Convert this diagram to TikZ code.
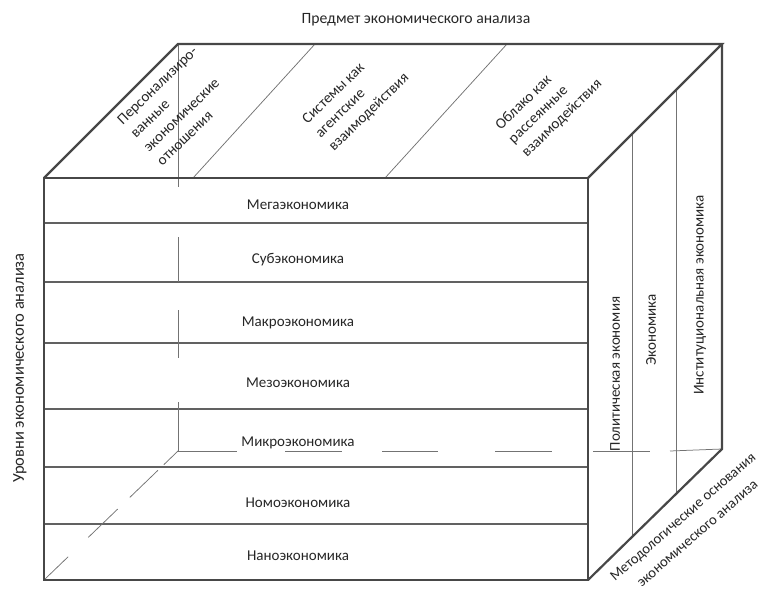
\documentclass[tikz,border=0pt]{standalone}
\usepackage{fontspec}
\setmainfont{Carlito}
\usetikzlibrary{calc}
\begin{document}
\begin{tikzpicture}[x=1pt,y=-1pt,
  edge/.style={draw=black!72, line width=2.2pt, line join=miter},
  layer/.style={draw=black!62, line width=1.1pt},
  thinline/.style={draw=black!55, line width=0.75pt},
  lbl/.style={text=black!85, font=\fontsize{15}{18}\selectfont, inner sep=0pt},
  toplbl/.style={lbl, rotate=44, align=left, font=\fontsize{15}{19}\selectfont},
  sidelbl/.style={lbl, rotate=90}]
\useasboundingbox (0,0) rectangle (761,594);
% corners
\coordinate (A) at (44,178);
\coordinate (B) at (588,178);
\coordinate (C) at (588,580);
\coordinate (D) at (44,580);
\coordinate (E) at (178,44);
\coordinate (F) at (722,44);
\coordinate (G) at (722,449);
\coordinate (H) at (178,451);
% layer lines
\foreach \yy in {223,282,343,409,467,524}
  \draw[layer] (44,\yy) -- (588,\yy);
% hidden back vertical edge (broken)
\draw[thinline] (E) -- (178,187);
\draw[thinline] (178,237) -- (178,282);
\draw[thinline] (178,310) -- (178,358);
\draw[thinline] (178,402) -- (H);
% hidden back bottom edge (dashed)
\draw[thinline] (H) -- (237,451);
\draw[thinline] (285,451) -- (342,451);
\draw[thinline] (382,451) -- (438,451);
\draw[thinline] (495,451) -- (552,451);
\draw[thinline] (593,451) -- (650,451);
\draw[thinline] (670,451) -- (G);
% hidden diagonal (dashed)
\draw[thinline] (H) -- ($(H)!0.106!(D)$);
\draw[thinline] ($(H)!0.15!(D)$) -- ($(H)!0.36!(D)$);
\draw[thinline] ($(H)!0.45!(D)$) -- ($(H)!0.67!(D)$);
\draw[thinline] ($(H)!0.82!(D)$) -- (D);
% top face dividers
\draw[thinline] (193,178) -- (315,44);
\draw[thinline] (385,178) -- (507,44);
% right face dividers
\draw[thinline] (632,134) -- (632,536);
\draw[thinline] (676,90) -- (676,492);
% outer edges
\draw[edge] (A) -- (B) -- (C) -- (D) -- cycle;
\draw[edge] (A) -- (E) -- (F) -- (B);
\draw[edge] (F) -- (G) -- (C);
% labels
\node[lbl, font=\fontsize{15.7}{18}\selectfont] (title) at (416,20) {Предмет экономического анализа};
\node[lbl] (mega) at (298,205) {Мегаэкономика};
\node[lbl] (sub) at (298,260) {Субэкономика};
\node[lbl] (makro) at (298,323) {Макроэкономика};
\node[lbl] (mezo) at (298,383) {Мезоэкономика};
\node[lbl] (mikro) at (298,443) {Микроэкономика};
\node[lbl] (nomo) at (298,503) {Номоэкономика};
\node[lbl] (nano) at (298,556) {Наноэкономика};
\node[toplbl] (pers) at (177,106) {Персонализиро-\\ванные\\экономические\\отношения};
\node[toplbl] (sys) at (356,99) {Системы как\\агентские\\взаимодействия};
\node[toplbl] (cloud) at (549,105) {Облако как\\рассеянные\\взаимодействия};
\node[sidelbl] (polit) at (615,374) {Политическая экономия};
\node[sidelbl] (econ) at (651,330) {Экономика};
\node[sidelbl] (inst) at (700,295) {Институциональная экономика};
\node[sidelbl, font=\fontsize{16.5}{18}\selectfont] (levels) at (20,368) {Уровни экономического анализа};
\node[lbl, rotate=41, align=center, font=\fontsize{14.6}{22}\selectfont] (meth) at (690,525) {Методологические основания\\экономического анализа};
\end{tikzpicture}
\end{document}
